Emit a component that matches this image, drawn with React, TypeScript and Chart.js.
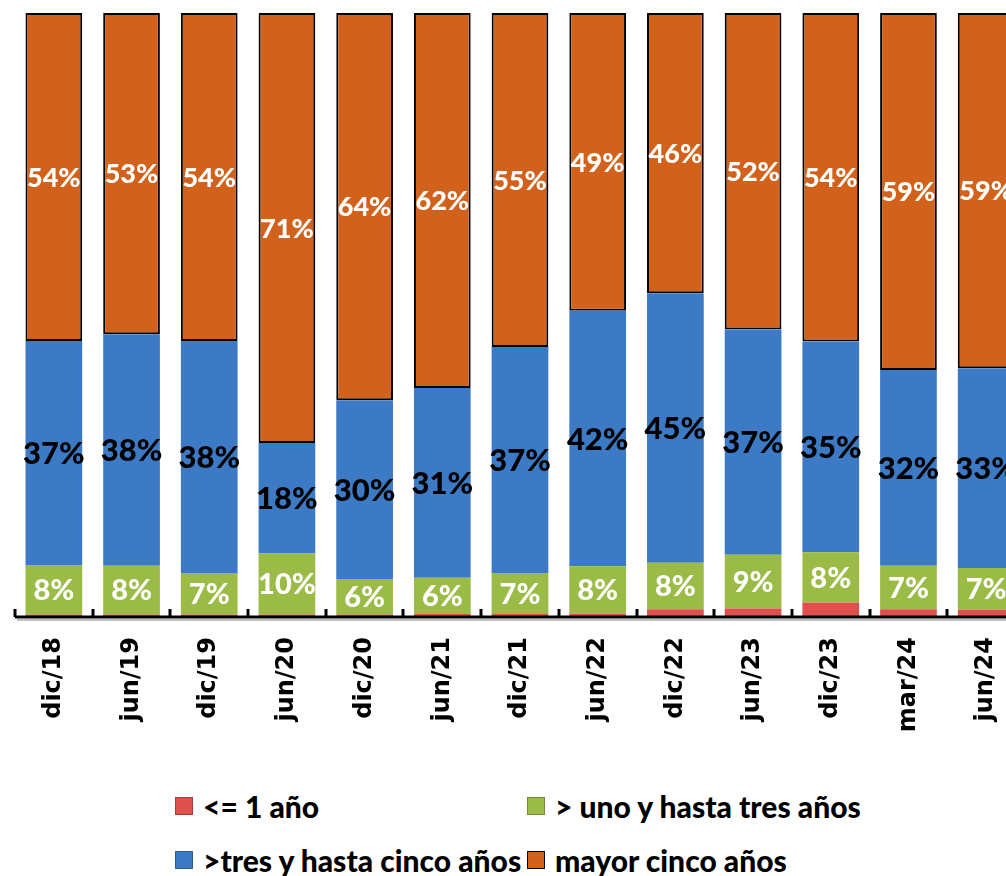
import React, { useEffect, useRef } from "react";
import { Chart, registerables } from "chart.js";

Chart.register(...registerables);

const categories = ["dic/18", "jun/19", "dic/19", "jun/20", "dic/20", "jun/21", "dic/21", "jun/22", "dic/22", "jun/23", "dic/23", "mar/24", "jun/24"];
const hastaUnAno = [0.4, 0.4, 0.4, 0.4, 0.4, 0.5, 0.5, 0.6, 1.3, 1.4, 2.4, 1.3, 1.2];
const unoATres = [8.2, 8.1, 6.9, 10.1, 5.9, 6.0, 6.8, 7.8, 7.7, 8.9, 8.3, 7.2, 6.9];
const tresACinco = [37.1, 38.3, 38.4, 18.3, 29.6, 31.4, 37.4, 42.3, 44.6, 37.3, 34.9, 32.4, 33.1];
const mayorCinco = [54.3, 53.2, 54.3, 71.2, 64.1, 62.1, 55.3, 49.3, 46.4, 52.4, 54.4, 59.1, 58.8];
const seriesNames = ["<= 1 año", "> uno y hasta tres años", ">tres y hasta cinco años", "mayor cinco años"];
const seriesColors = ["#E0504F", "#9BBB47", "#3C7AC6", "#D2621B"];
const labelColors = [null, "#FFFFFF", "#000000", "#FFFFFF"];
const labelSizes = [0, 29, 31, 27];

const dataLabelPlugin = {
  id: "segLabels",
  afterDatasetsDraw(chart: any) {
    const ctx = chart.ctx;
    chart.data.datasets.forEach((ds: any, di: number) => {
      const col = labelColors[di];
      if (!col) return;
      const meta = chart.getDatasetMeta(di);
      meta.data.forEach((el: any, i: number) => {
        const v = ds.data[i];
        ctx.save();
        ctx.fillStyle = col;
        ctx.font = `900 ${labelSizes[di]}px Lato`;
        ctx.textAlign = "center";
        ctx.textBaseline = "middle";
        ctx.fillText(Math.round(v) + "%", el.x, (el.y + el.base) / 2 + 1);
        ctx.restore();
      });
    });
  },
};

const axisTicksPlugin = {
  id: "innerTicks",
  afterDraw(chart: any) {
    const ctx = chart.ctx;
    const x = chart.scales.x;
    const y0 = chart.chartArea.bottom;
    const n = categories.length;
    const step = (x.right - x.left) / n;
    ctx.save();
    ctx.strokeStyle = "rgba(0,0,0,0.25)";
    ctx.lineWidth = 2;
    ctx.beginPath();
    ctx.moveTo(x.left + 2, y0 + 3);
    ctx.lineTo(x.right, y0 + 3);
    ctx.stroke();
    ctx.strokeStyle = "#000";
    ctx.lineWidth = 3;
    ctx.beginPath();
    ctx.moveTo(x.left, y0);
    ctx.lineTo(x.right, y0);
    ctx.stroke();
    for (let i = 0; i <= n; i++) {
      const px = Math.round(x.left + i * step);
      ctx.beginPath();
      ctx.moveTo(px, y0 - 8);
      ctx.lineTo(px, y0);
      ctx.stroke();
    }
    ctx.restore();
  },
};

function LegendItem({ color, text, x, y, border }: any) {
  return (
    <div style={{ position: "absolute", left: x, top: y, display: "flex", alignItems: "center", whiteSpace: "nowrap" }}>
      <span
        style={{
          display: "inline-block",
          width: 18,
          height: 18,
          background: color,
          border: border ? "1.5px solid #000" : "1px solid rgba(0,0,0,0.25)",
          marginRight: 10,
          boxSizing: "border-box",
        }}
      />
      <span style={{ fontFamily: "Lato", fontWeight: 900, fontSize: 30, color: "#000" }}>{text}</span>
    </div>
  );
}

export default function App() {
  const ref = useRef<HTMLCanvasElement>(null);
  useEffect(() => {
    if (!ref.current) return;
    const values = [hastaUnAno, unoATres, tresACinco, mayorCinco];
    const chart = new Chart(ref.current, {
      type: "bar",
      data: {
        labels: categories,
        datasets: values.map((d, i) => ({
          label: seriesNames[i],
          data: d,
          backgroundColor: seriesColors[i],
          borderColor: "#000",
          borderWidth: i === 3 ? 2 : 0,
          borderSkipped: false,
          categoryPercentage: 1,
          barPercentage: 0.73,
        })),
      },
      options: {
        animation: false,
        responsive: false,
        devicePixelRatio: 1,
        layout: { padding: { left: 15, right: 15, top: 13, bottom: 0 } },
        plugins: { legend: { display: false }, tooltip: { enabled: false } },
        scales: {
          x: {
            stacked: true,
            grid: { display: false, drawTicks: false },
            border: { display: false },
            ticks: {
              color: "#000",
              font: { family: "DejaVu Sans", weight: "bold", size: 24 },
              minRotation: 90,
              maxRotation: 90,
              padding: 20,
            },
            afterFit: (s: any) => {
              s.height = 143;
            },
          },
          y: { stacked: true, display: false, min: 0, max: 100 },
        },
      },
      plugins: [dataLabelPlugin, axisTicksPlugin],
    });
    return () => chart.destroy();
  }, []);

  return (
    <div style={{ position: "fixed", left: 0, top: 0, width: 1006, height: 876, overflow: "hidden", background: "#fff" }}>
      <canvas ref={ref} width={1040} height={760} style={{ position: "absolute", left: 0, top: 0 }} />
      <LegendItem color={seriesColors[0]} text={seriesNames[0]} x={175} y={788} />
      <LegendItem color={seriesColors[1]} text={seriesNames[1]} x={527} y={788} />
      <LegendItem color={seriesColors[2]} text={seriesNames[2]} x={175} y={842} />
      <LegendItem color={seriesColors[3]} text={seriesNames[3]} x={527} y={842} border />
    </div>
  );
}
